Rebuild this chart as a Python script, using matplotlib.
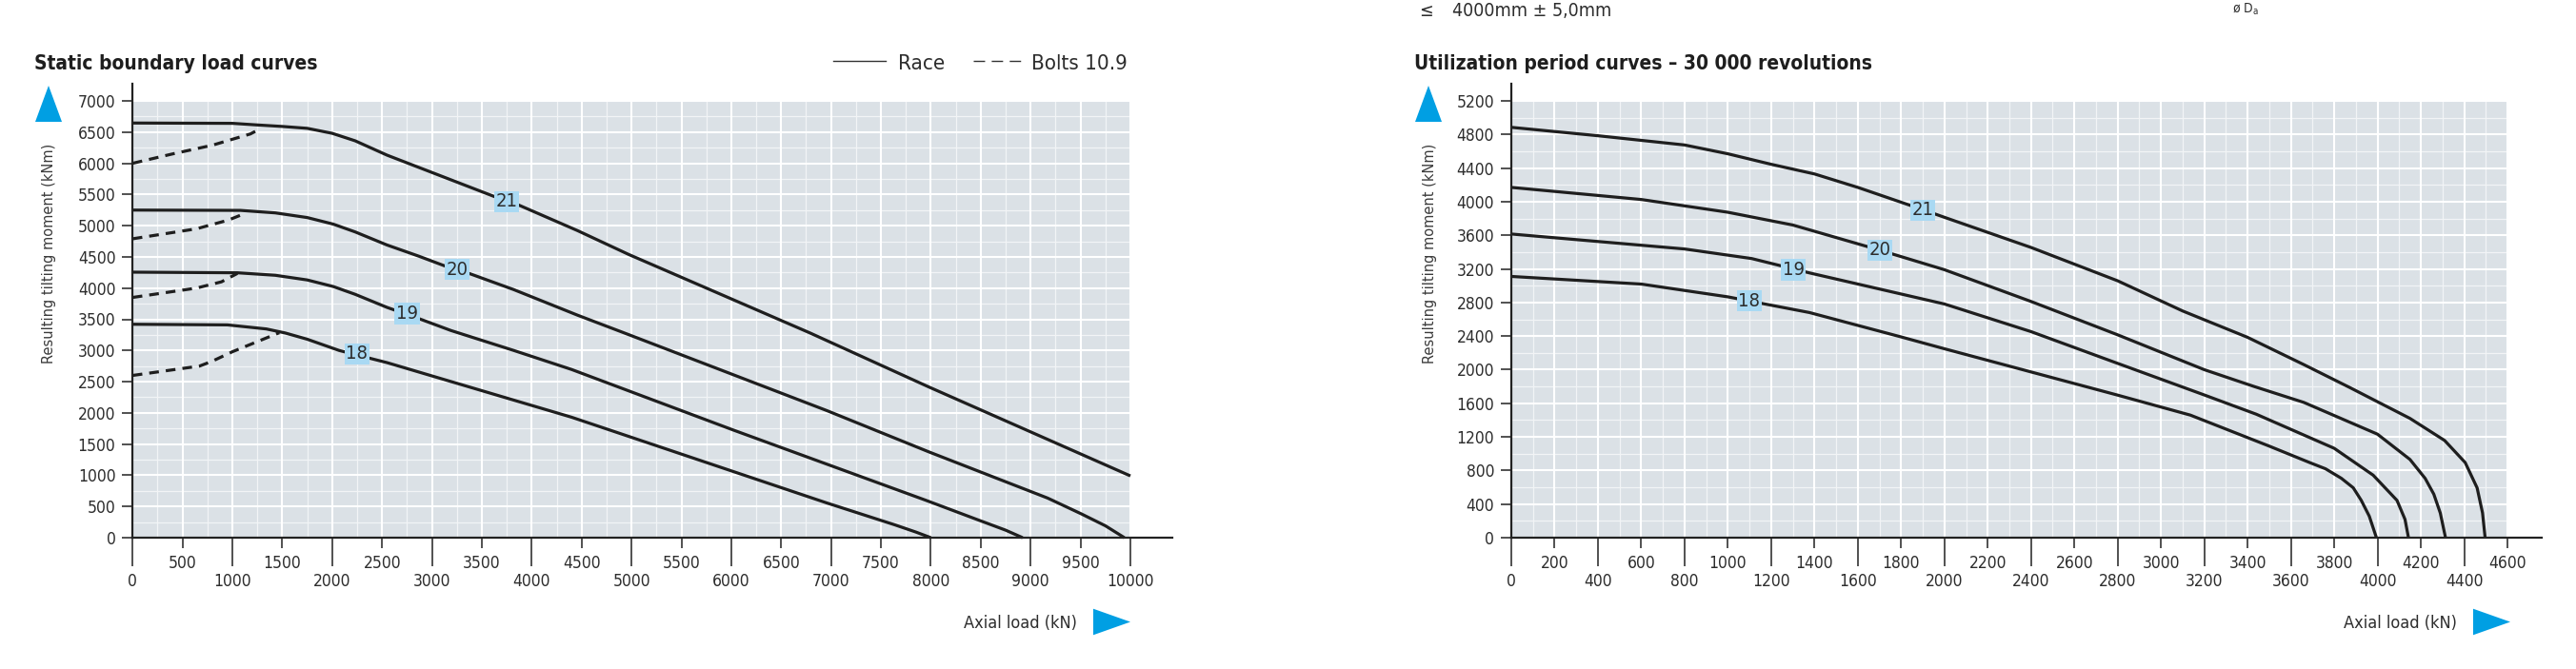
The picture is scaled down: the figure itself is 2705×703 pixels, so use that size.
import numpy as np
import matplotlib
matplotlib.use('Agg')
import matplotlib.pyplot as plt
from matplotlib import font_manager as fm
from matplotlib.patches import Polygon
from matplotlib.lines import Line2D

# ---------------- data ----------------
# Static boundary load curves: race (solid)
st_race18_x = [0, 950, 1340, 1530, 1750, 2070, 2550, 4400, 5350, 6960, 7640, 7850, 8000]
st_race18_y = [3420, 3410, 3345, 3280, 3180, 3000, 2805, 1930, 1420, 555, 205, 90, 0]
st_race19_x = [0, 1050, 1430, 1750, 2010, 2230, 2550, 2870, 3190, 3820, 4400, 6020, 7940, 8490, 8750, 8920]
st_race19_y = [4255, 4245, 4205, 4130, 4025, 3900, 3690, 3510, 3320, 3000, 2695, 1725, 605, 275, 120, 0]
st_race20_x = [0, 1080, 1430, 1750, 2010, 2230, 2550, 2870, 3120, 3380, 3820, 4460, 4970, 6960, 7980, 9170, 9510, 9750, 9940]
st_race20_y = [5250, 5245, 5205, 5130, 5025, 4900, 4690, 4510, 4360, 4230, 3975, 3565, 3255, 2035, 1375, 635, 380, 190, 0]
st_race21_x = [0, 1000, 1240, 1500, 1750, 2000, 2230, 2550, 3620, 3870, 4460, 4970, 6790, 7980, 10000]
st_race21_y = [6645, 6640, 6615, 6590, 6560, 6480, 6360, 6130, 5470, 5330, 4920, 4540, 3280, 2415, 990]
# Static boundary load curves: bolts 10.9 (dashed)
st_bolt18_x = [0, 670, 800, 1000, 1470]
st_bolt18_y = [2600, 2750, 2830, 2980, 3285]
st_bolt19_x = [0, 640, 890, 1050]
st_bolt19_y = [3850, 4000, 4100, 4235]
st_bolt20_x = [0, 640, 960, 1100]
st_bolt20_y = [4790, 4950, 5090, 5180]
st_bolt21_x = [0, 400, 800, 1000, 1180, 1275]
st_bolt21_y = [6000, 6150, 6290, 6385, 6470, 6550]
st_labels = ['18', '19', '20', '21']
st_label_x = [2247, 2750, 3251, 3748]
st_label_y = [2949, 3590, 4298, 5385]

# Utilization period curves - 30 000 revolutions
ut18_x = [0, 600, 1000, 1100, 1377, 1800, 2000, 2400, 2800, 3136, 3500, 3686, 3760, 3833, 3888, 3925, 3962, 3995]
ut18_y = [3110, 3019, 2867, 2817, 2680, 2390, 2249, 1973, 1697, 1459, 1090, 895, 820, 707, 594, 444, 256, 0]
ut19_x = [0, 800, 1110, 1377, 2000, 2400, 2800, 3200, 3440, 3800, 3980, 4090, 4127, 4143]
ut19_y = [3615, 3437, 3323, 3152, 2782, 2453, 2075, 1699, 1470, 1064, 744, 444, 218, 0]
ut20_x = [0, 600, 1000, 1300, 1700, 2000, 2400, 2800, 3200, 3430, 3660, 4000, 4150, 4220, 4260, 4290, 4314]
ut20_y = [4170, 4026, 3874, 3722, 3424, 3190, 2812, 2415, 2000, 1800, 1610, 1232, 931, 706, 518, 293, 0]
ut21_x = [0, 400, 800, 1000, 1200, 1400, 1600, 1900, 2000, 2400, 2800, 3100, 3400, 3660, 3870, 4150, 4310, 4405, 4460, 4485, 4497]
ut21_y = [4885, 4785, 4675, 4570, 4445, 4330, 4170, 3905, 3814, 3455, 3058, 2699, 2385, 2060, 1790, 1420, 1157, 894, 593, 295, 0]
ut_labels = ['18', '19', '20', '21']
ut_label_x = [1098, 1303, 1702, 1900]
ut_label_y = [2817, 3190, 3424, 3901]

# ticks
st_xticks_major = [0, 1000, 2000, 3000, 4000, 5000, 6000, 7000, 8000, 9000, 10000]
st_xticks_minor = [500, 1500, 2500, 3500, 4500, 5500, 6500, 7500, 8500, 9500]
st_yticks = [0, 500, 1000, 1500, 2000, 2500, 3000, 3500, 4000, 4500, 5000, 5500, 6000, 6500, 7000]
ut_xticks_major = [0, 400, 800, 1200, 1600, 2000, 2400, 2800, 3200, 3600, 4000, 4400]
ut_xticks_minor = [200, 600, 1000, 1400, 1800, 2200, 2600, 3000, 3400, 3800, 4200, 4600]
ut_yticks = [0, 400, 800, 1200, 1600, 2000, 2400, 2800, 3200, 3600, 4000, 4400, 4800, 5200]

# ---------------- style ----------------
W, H, DPI = 2705, 703, 100
BG = '#dbe1e6'
GRID_MAJ = '#ffffff'
GRID_MIN = '#f2f4f6'
AXC = '#222222'
TXT = '#2d2d2d'
LINEC = '#1e1e1e'
LBLC = '#a9d9f3'
BLUE = '#009fe3'

names = {f.name for f in fm.fontManager.ttflist}
HAS_COND = any(f.name == 'DejaVu Sans' and 'ondensed' in str(f.stretch) for f in fm.fontManager.ttflist)
NARROW = 'Liberation Sans Narrow' if 'Liberation Sans Narrow' in names else None
STRETCH = 'condensed' if HAS_COND else 'normal'
TICK_FS = 12.5 if HAS_COND else 11.3

cond = dict(family='DejaVu Sans', fontstretch=STRETCH)

fig = plt.figure(figsize=(W / DPI, H / DPI), dpi=DPI)
fig.patch.set_facecolor('white')


def px_rect(x0, x1, ytop, ybot):
    return [x0 / W, 1 - ybot / H, (x1 - x0) / W, (ybot - ytop) / H]


ax1 = fig.add_axes(px_rect(139.3, 1187, 106, 565))
ax2 = fig.add_axes(px_rect(1587, 2633, 106, 565))


def setup(ax, xmax, ymax, gx_min, gx_maj, gy_min, gy_maj, xmaj, xmin, yt, ext_x):
    ax.set_xlim(0, xmax)
    ax.set_ylim(0, ymax)
    ax.set_facecolor(BG)
    for s in ax.spines.values():
        s.set_visible(False)
    for v in gx_min:
        ax.axvline(v, color=GRID_MIN, lw=0.9, zorder=0.5)
    for v in gy_min:
        ax.axhline(v, color=GRID_MIN, lw=0.9, zorder=0.5)
    for v in gx_maj:
        ax.axvline(v, color=GRID_MAJ, lw=1.5, zorder=0.6)
    for v in gy_maj:
        ax.axhline(v, color=GRID_MAJ, lw=1.5, zorder=0.6)
    ax.set_xticks(xmaj)
    ax.set_xticks(xmin, minor=True)
    ax.set_xticklabels([str(v) for v in xmaj], fontsize=TICK_FS, color=TXT, **cond)
    ax.set_xticklabels([str(v) for v in xmin], minor=True, fontsize=TICK_FS, color=TXT, **cond)
    ax.set_yticks(yt)
    ax.set_yticklabels([str(v) for v in yt], fontsize=TICK_FS, color=TXT, **cond)
    ax.tick_params(axis='x', which='major', length=21.6, width=1.1, pad=4.8, color=AXC)
    ax.tick_params(axis='x', which='minor', length=7.9, width=1.1, pad=4.8, color=AXC)
    ax.tick_params(axis='y', which='major', length=7.9, width=1.1, pad=5.0, color=AXC)
    ax.axhline(0, xmin=0, xmax=ext_x, color=AXC, lw=1.6, clip_on=False, zorder=5)
    ax.axvline(0, ymin=0, ymax=1.04, color=AXC, lw=1.6, clip_on=False, zorder=5)


setup(ax1, 10000, 7000,
      np.arange(250, 10000, 500), np.arange(500, 10001, 500),
      np.arange(250, 7000, 500), np.arange(500, 7001, 500),
      st_xticks_major, st_xticks_minor, st_yticks, 1.042)
setup(ax2, 4600, 5200,
      np.arange(100, 4600, 200), np.arange(200, 4601, 200),
      np.arange(200, 5200, 400), np.arange(400, 5201, 400),
      ut_xticks_major, ut_xticks_minor, ut_yticks, 1.034)

LW = 2.3
for xs, ys in [(st_race18_x, st_race18_y), (st_race19_x, st_race19_y),
               (st_race20_x, st_race20_y), (st_race21_x, st_race21_y)]:
    ax1.plot(xs, ys, color=LINEC, lw=LW, solid_capstyle='butt', solid_joinstyle='round', zorder=3, clip_on=False)
for xs, ys in [(st_bolt18_x, st_bolt18_y), (st_bolt19_x, st_bolt19_y),
               (st_bolt20_x, st_bolt20_y), (st_bolt21_x, st_bolt21_y)]:
    ax1.plot(xs, ys, color=LINEC, lw=LW, dashes=(3.2, 2.3), zorder=3)
for xs, ys in [(ut18_x, ut18_y), (ut19_x, ut19_y), (ut20_x, ut20_y), (ut21_x, ut21_y)]:
    ax2.plot(xs, ys, color=LINEC, lw=LW, solid_capstyle='butt', solid_joinstyle='round', zorder=3, clip_on=False)

for ax, labs, lx, ly in [(ax1, st_labels, st_label_x, st_label_y), (ax2, ut_labels, ut_label_x, ut_label_y)]:
    for s, x, y in zip(labs, lx, ly):
        ax.text(x, y, s, ha='center', va='center', fontsize=14.5, color=TXT, zorder=6,
                bbox=dict(boxstyle='square,pad=0.08', fc=LBLC, ec='none'), **cond)


# decorations: arrows, axis titles
def decorate(ax, apex_up_x, right_apex_x, right_base_x, xlabel_right):
    hw = 14.0 / ax.bbox.width
    up = Polygon([[apex_up_x, (565 - 90) / 459], [apex_up_x - hw, (565 - 128) / 459],
                  [apex_up_x + hw, (565 - 128) / 459]], closed=True, transform=ax.transAxes,
                 clip_on=False, fc=BLUE, ec='none')
    ax.add_patch(up)
    yc = (565 - 653.5) / 459
    hh = 13.8 / 459
    rt = Polygon([[right_apex_x, yc], [right_base_x, yc + hh], [right_base_x, yc - hh]], closed=True,
                 transform=ax.transAxes, clip_on=False, fc=BLUE, ec='none')
    ax.add_patch(rt)
    ax.text(xlabel_right, (565 - 660) / 459, 'Axial load (kN)', transform=ax.transAxes,
            ha='right', va='baseline', fontsize=13, color=TXT, **cond)
    ax.text(apex_up_x + 1.0 / ax.bbox.width, (565 - 266) / 459, 'Resulting tilting moment (kNm)',
            transform=ax.transAxes, rotation=90, ha='center', va='center', fontsize=10.5,
            color='#3a3a3a', family='DejaVu Sans')


decorate(ax1, (51 - 139.3) / 1047.7, 1.0, (1148 - 139.3) / 1047.7, (1131 - 139.3) / 1047.7)
decorate(ax2, (1500 - 1587) / 1046, (2636 - 1587) / 1046, (2597 - 1587) / 1046, (2580 - 1587) / 1046)

# titles
if NARROW:
    tkw = dict(family=NARROW, fontsize=17, weight='bold')
else:
    tkw = dict(family='DejaVu Sans', fontstretch=STRETCH, fontsize=15, weight='bold')
fig.text(36 / W, 1 - 73 / H, 'Static boundary load curves', va='baseline', color='#1e1e1e', **tkw)
fig.text(1485 / W, 1 - 73 / H, 'Utilization period curves \u2013 30 000 revolutions', va='baseline',
         color='#1e1e1e', **tkw)

# legend
fig.add_artist(Line2D([875 / W, 930 / W], [1 - 64 / H, 1 - 64 / H], transform=fig.transFigure,
                      color='#333333', lw=1.0))
fig.text(943 / W, 1 - 73 / H, 'Race', va='baseline', fontsize=16, color=TXT, **cond)
fig.add_artist(Line2D([1022 / W, 1072 / W], [1 - 64 / H, 1 - 64 / H], transform=fig.transFigure,
                      color='#333333', lw=1.0, dashes=(8.6, 5.0)))
fig.text(1083 / W, 1 - 73 / H, 'Bolts 10.9', va='baseline', fontsize=16, color=TXT, **cond)

# fragments of the text above the charts (kept fully inside the picture)
fig.text(1490 / W, 1 - 17 / H, '\u2264', va='baseline', fontsize=14, color=TXT, **cond)
fig.text(1525 / W, 1 - 17 / H, '4000mm \u00b1 5,0mm', va='baseline', fontsize=14, color=TXT, **cond)
fig.text(2344 / W, 1 - 14 / H, '\u00f8 D$_\\mathregular{a}$', va='baseline', fontsize=10, color=TXT, **cond)

fig.savefig('out.png', dpi=DPI, facecolor='white')
